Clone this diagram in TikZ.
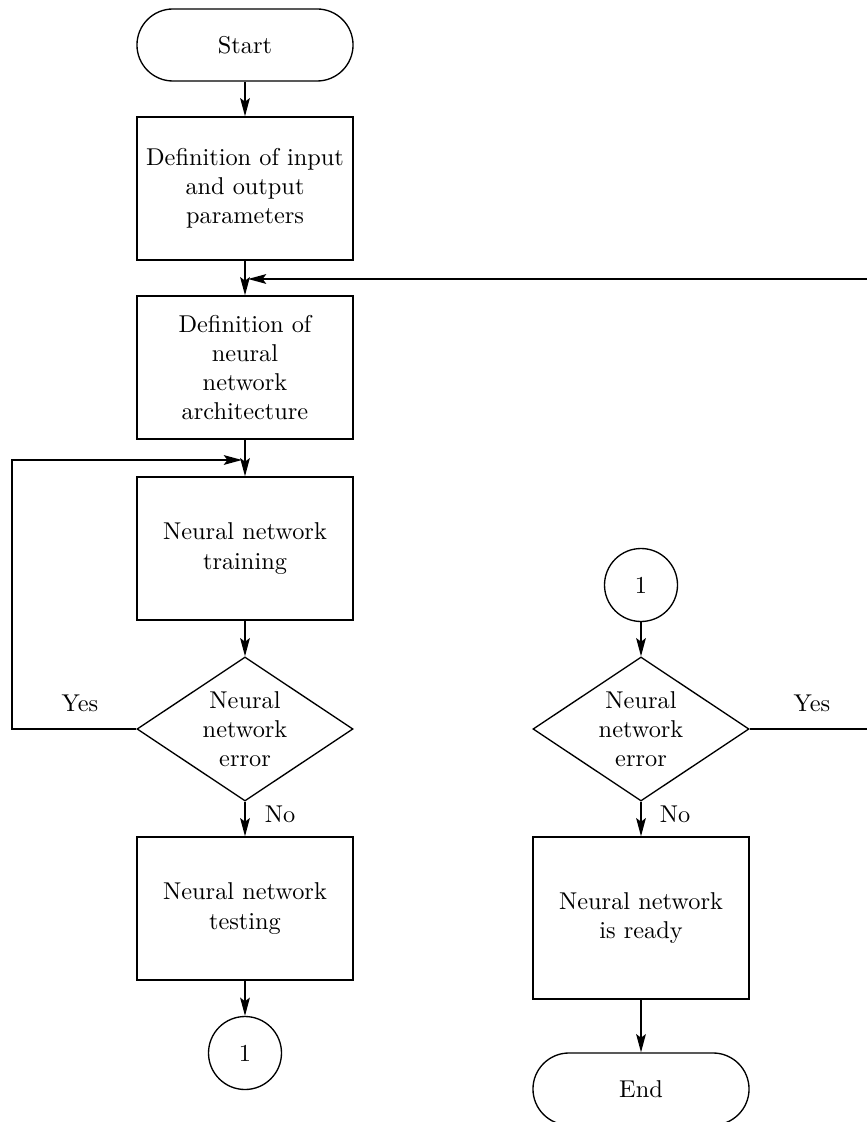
\documentclass[tikz,border=0pt]{standalone}
\usetikzlibrary{shapes.geometric,arrows.meta}
\begin{document}
\begin{tikzpicture}[x=0.411pt,y=-0.411pt,
  every path/.style={line width=0.55pt},
  arr/.style={-{Stealth[length=7.5pt,width=4pt,inset=1.5pt]}},
  term/.style={draw,rectangle,rounded corners=14.8pt,minimum width=88.8pt,minimum height=29.6pt,align=center,inner sep=0pt},
  proc/.style={draw,rectangle,minimum width=88.8pt,minimum height=58.8pt,align=center,inner sep=0pt},
  dec/.style={draw,diamond,aspect=1.5,minimum width=88.8pt,minimum height=59.2pt,align=center,inner sep=0pt},
  conn/.style={draw,circle,minimum size=30pt,inner sep=0pt},
  lbl/.style={inner sep=0pt}]
\useasboundingbox (0,0) rectangle (866,1122);
% left column
\node[term] (start) at (245,45) {Start};
\node[proc] (b1) at (245,188.5) {Definition of input\\and output\\parameters};
\node[proc] (b2) at (245,367.5) {Definition of\\neural\\network\\architecture};
\node[proc] (b3) at (245,548.5) {Neural network\\training};
\node[dec] (d1) at (245,729) {Neural\\network\\error};
\node[proc] (b4) at (245,908.5) {Neural network\\testing};
\node[conn] (c1) at (245,1053) {1};
% right column
\node[conn] (c2) at (641,585) {1};
\node[dec] (d2) at (641,729) {Neural\\network\\error};
\node[proc,minimum height=66.6pt] (b5) at (641,918) {Neural network\\is ready};
\node[term] (end) at (641,1089) {End};
% labels
\node[lbl] (yesL) at (80,703) {Yes};
\node[lbl] (yesR) at (812,703) {Yes};
\node[lbl] (noL) at (280,814) {No};
\node[lbl] (noR) at (675,814) {No};
% helper coordinates
\coordinate (m1) at (248,279);
\coordinate (m2) at (242,460);
\coordinate (farR) at (890,279);
\coordinate (farL) at (12,460);
% connectors
\draw[arr] (start) -- (b1);
\draw[arr] (b1) -- (b2);
\draw[arr] (b2) -- (b3);
\draw[arr] (b3) -- (d1);
\draw[arr] (d1) -- (b4);
\draw[arr] (b4) -- (c1);
\draw[arr] (c2) -- (d2);
\draw[arr] (d2) -- (b5);
\draw[arr] (b5) -- (end);
\draw[arr] (d1.west) -| (farL) -- (m2);
\draw[arr] (d2.east) -| (farR) -- (m1);
\end{tikzpicture}
\end{document}
